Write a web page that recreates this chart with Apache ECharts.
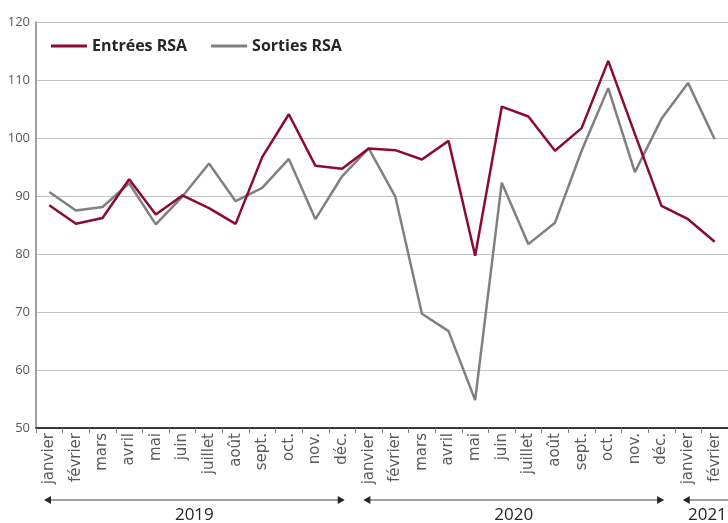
<!DOCTYPE html>
<html>
<head>
<meta charset="utf-8">
<script src="https://cdn.jsdelivr.net/npm/echarts@6/dist/echarts.min.js"></script>
<style>
  html, body { margin: 0; padding: 0; background: #fff; }
  #container { width: 728px; height: 523px; }
</style>
</head>
<body>
<div id="container"></div>
<script>
var dom = document.getElementById('container');
var myChart = echarts.init(dom, null, { renderer: 'canvas' });

// months, janvier 2019 -> février 2021
const months = ['janvier', 'février', 'mars', 'avril', 'mai', 'juin', 'juillet', 'août', 'sept.', 'oct.', 'nov.', 'déc.',
  'janvier', 'février', 'mars', 'avril', 'mai', 'juin', 'juillet', 'août', 'sept.', 'oct.', 'nov.', 'déc.',
  'janvier', 'février'];
const entrees = [88.4, 85.2, 86.2, 92.9, 86.8, 90.1, 87.9, 85.2, 96.7, 104.1, 95.2, 94.7,
  98.2, 97.9, 96.3, 99.5, 79.7, 105.4, 103.7, 97.8, 101.7, 113.3, 100.7, 88.3, 86.0, 82.1];
const sorties = [90.7, 87.5, 88.1, 92.2, 85.1, 89.9, 95.6, 89.1, 91.4, 96.4, 86.0, 93.4,
  98.2, 89.9, 69.7, 66.7, 54.8, 92.3, 81.7, 85.4, 97.8, 108.6, 94.1, 103.3, 109.5, 99.8];
// year spans: [label, first month index, last month index]
const years = [['2019', 0, 11], ['2020', 12, 23], ['2021', 24, 25]];

const FONT = 'Open Sans';
const RED = '#8c0a36';
const GREY = '#808080';

var option = {
  animation: false,
  legend: {
    left: 46,
    top: 33,
    itemWidth: 36,
    itemHeight: 3,
    itemGap: 24,
    icon: 'rect',
    textStyle: { fontFamily: FONT, fontSize: 16, fontWeight: 'bold', color: '#262626' },
    data: ['Entrées RSA', 'Sorties RSA']
  },
  grid: { left: 36, right: 0, top: 22, bottom: 95, containLabel: false },
  xAxis: {
    type: 'category',
    data: months,
    boundaryGap: true,
    axisLine: { lineStyle: { color: '#000', width: 1.5 } },
    axisTick: { show: true, length: 5, lineStyle: { color: '#808080' } },
    axisLabel: {
      rotate: 90,
      interval: 0,
      margin: 5,
      fontFamily: 'DejaVu Sans',
      fontSize: 15,
      color: '#595959'
    }
  },
  yAxis: {
    type: 'value',
    min: 50,
    max: 120,
    interval: 10,
    axisLine: { show: true, lineStyle: { color: '#808080', width: 1.5 } },
    axisTick: { show: false },
    axisLabel: { fontFamily: FONT, fontSize: 13, color: '#595959', margin: 6 },
    splitLine: { lineStyle: { color: '#c4c4c4', width: 1 } }
  },
  series: [
    {
      name: 'Entrées RSA',
      type: 'line',
      data: entrees,
      symbol: 'none',
      lineStyle: { color: RED, width: 2.5 },
      itemStyle: { color: RED },
      z: 3
    },
    {
      name: 'Sorties RSA',
      type: 'line',
      data: sorties,
      symbol: 'none',
      lineStyle: { color: GREY, width: 2.5 },
      itemStyle: { color: GREY },
      z: 2
    }
  ]
};

myChart.setOption(option);

// year brackets under the month labels, placed from the category scale
function yearGraphics() {
  var els = [];
  var half = myChart.convertToPixel({ xAxisIndex: 0 }, 1) - myChart.convertToPixel({ xAxisIndex: 0 }, 0);
  half = half / 2;
  var yLine = 500;
  years.forEach(function (y) {
    var x1 = myChart.convertToPixel({ xAxisIndex: 0 }, y[1]) - half * 0.4;
    var x2 = myChart.convertToPixel({ xAxisIndex: 0 }, y[2]) + half * 0.2;
    if (y[0] === '2021') x2 = 760;
    els.push({
      type: 'line',
      shape: { x1: x1 + 6, y1: yLine, x2: x2 - 6, y2: yLine },
      style: { stroke: '#404040', lineWidth: 1 }
    });
    els.push({
      type: 'polygon',
      shape: { points: [[x1, yLine], [x1 + 7, yLine - 4], [x1 + 7, yLine + 4]] },
      style: { fill: '#262626' }
    });
    els.push({
      type: 'polygon',
      shape: { points: [[x2, yLine], [x2 - 7, yLine - 4], [x2 - 7, yLine + 4]] },
      style: { fill: '#262626' }
    });
    els.push({
      type: 'text',
      x: (x1 + (y[0] === '2021' ? 732 : x2)) / 2,
      y: yLine + 7,
      style: {
        text: y[0],
        fontFamily: FONT,
        fontSize: 17,
        fill: '#262626',
        align: 'center',
        verticalAlign: 'top'
      }
    });
  });
  return els;
}

myChart.setOption({ graphic: yearGraphics() });

window.addEventListener('resize', myChart.resize);
</script>
</body>
</html>
